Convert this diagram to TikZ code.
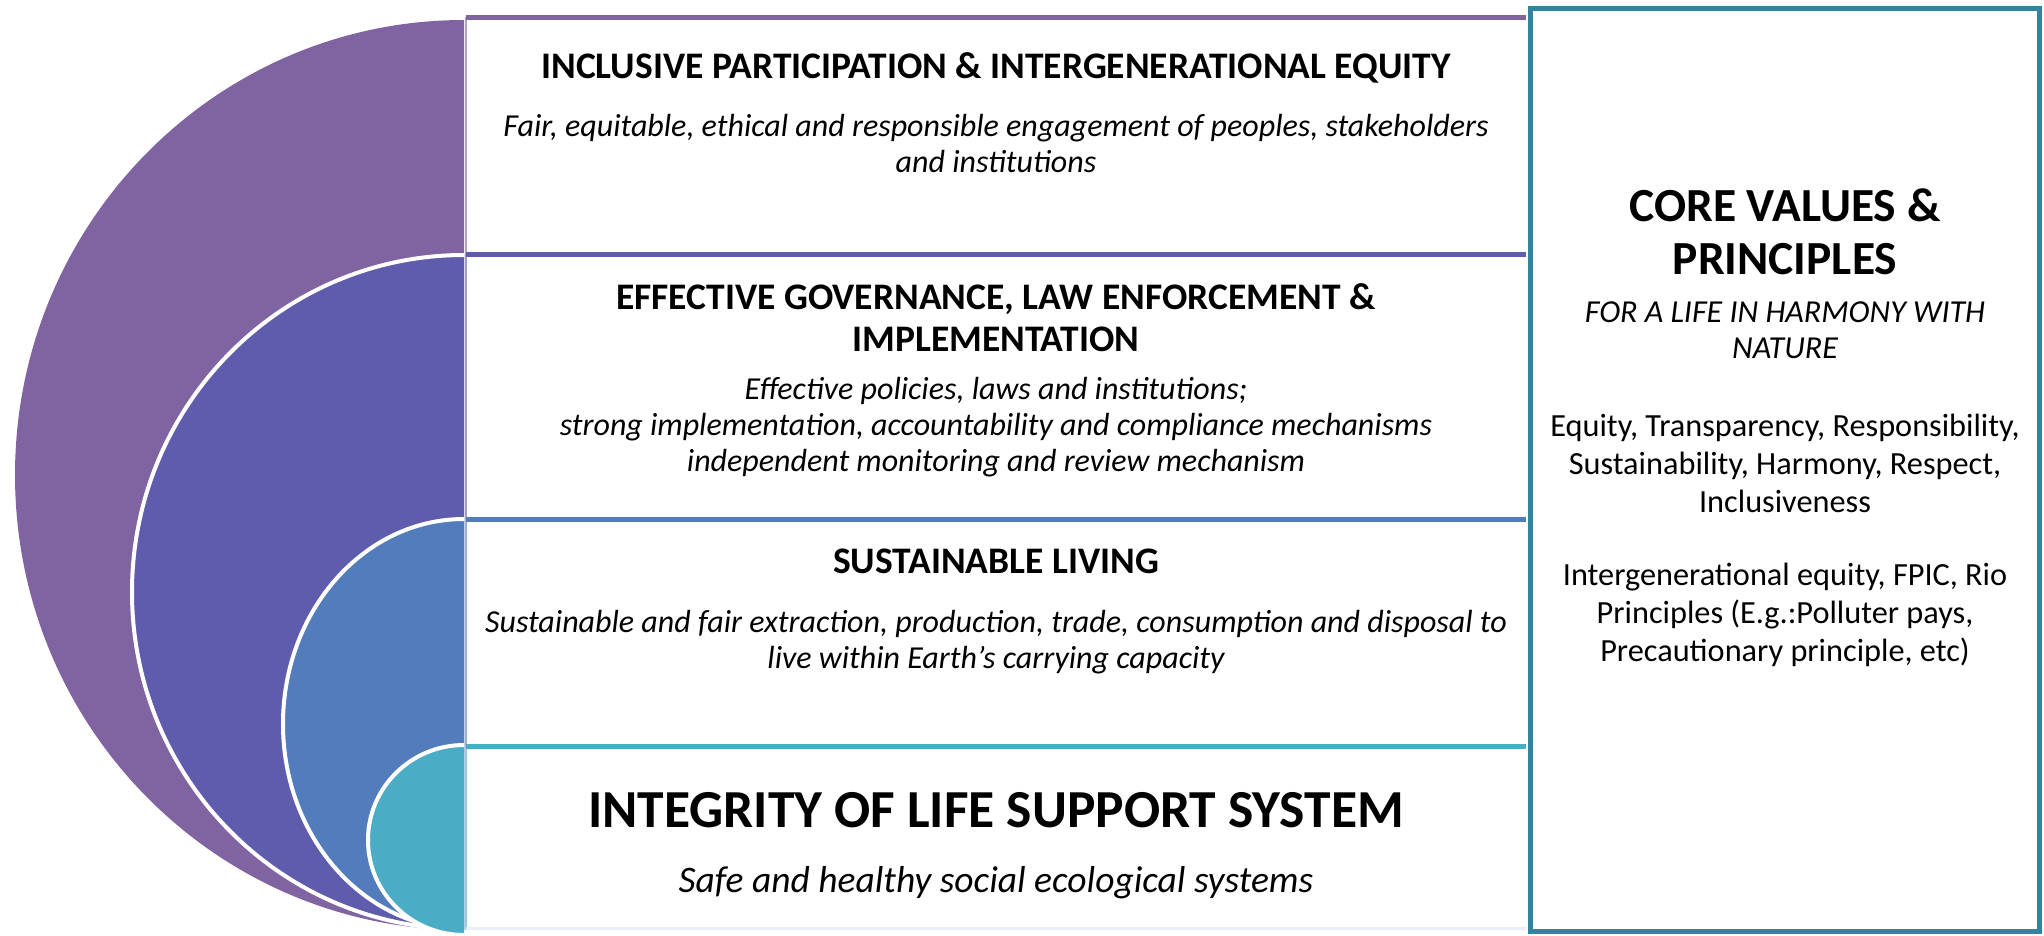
\documentclass[tikz,border=0pt]{standalone}
\usepackage{fontspec}
\setmainfont{Carlito}
\definecolor{ringA}{RGB}{128,100,162}
\definecolor{ringB}{RGB}{95,91,173}
\definecolor{ringC}{RGB}{82,124,187}
\definecolor{ringD}{RGB}{75,172,198}
\definecolor{coreline}{RGB}{49,132,155}
\begin{document}
\begin{tikzpicture}[x=1pt,y=-1pt,
    head/.style={font=\bfseries\fontsize{37.5}{42}\selectfont,align=center},
    sub/.style={font=\itshape\fontsize{32}{36}\selectfont,align=center},
    ring/.style={draw=white,line width=4}]
\useasboundingbox (0,0) rectangle (2044,935);
% half rings on the left
\begin{scope}
  \clip (0,0) rectangle (464,935);
  \fill[ringA] (464,475) ellipse[x radius=449,y radius=455];
  \filldraw[ring,fill=ringB] (464,592) ellipse[x radius=332,y radius=337];
  \filldraw[ring,fill=ringC] (464,724) ellipse[x radius=181,y radius=205];
  \filldraw[ring,fill=ringD] (464,840) ellipse[x radius=96,y radius=95];
\end{scope}
% bands
\foreach \top/\bot/\col in {17/254/ringA,254/519/ringB,519/746/ringC,746/930/ringD}{
  \draw[\col!60,line width=2] (466,\top) -- (466,\bot);
  \draw[\col,line width=5] (466,\top) -- (1526,\top);
}
\draw[ringC!12,line width=3] (466,928) -- (1526,928);
% core values box
\draw[coreline,line width=5,fill=white] (1530,8) rectangle (2039,931);
% band texts
\node[head] (incl) at (996,68) {INCLUSIVE PARTICIPATION \& INTERGENERATIONAL EQUITY};
\node[sub] (inclsub) at (996,144) {Fair, equitable, ethical and responsible engagement of peoples, stakeholders\\and institutions};
\node[head] (gov) at (996,318) {EFFECTIVE GOVERNANCE, LAW ENFORCEMENT \&\\IMPLEMENTATION};
\node[sub] (govsub) at (996,427) {Effective policies, laws and institutions;\\strong implementation, accountability and compliance mechanisms\\independent monitoring and review mechanism};
\node[head] (live) at (996,561) {SUSTAINABLE LIVING};
\node[sub] (livesub) at (996,642) {Sustainable and fair extraction, production, trade, consumption and disposal to\\live within Earth’s carrying capacity};
\node[head,font=\bfseries\fontsize{53.5}{60}\selectfont] (life) at (996,810) {INTEGRITY OF LIFE SUPPORT SYSTEM};
\node[sub,font=\itshape\fontsize{37.5}{44}\selectfont] (lifesub) at (996,883) {Safe and healthy social ecological systems};
% core texts
\node[head,font=\bfseries\fontsize{47.5}{53}\selectfont] (core) at (1785,232) {CORE VALUES \&\\PRINCIPLES};
\node[sub] (coresub) at (1785,330) {FOR A LIFE IN HARMONY WITH\\NATURE};
\node[align=center,font=\fontsize{32.3}{38}\selectfont] (vals) at (1785,463) {Equity, Transparency, Responsibility,\\Sustainability, Harmony, Respect,\\Inclusiveness};
\node[align=center,font=\fontsize{32.3}{38}\selectfont] (prin) at (1785,615) {Intergenerational equity, FPIC, Rio\\Principles (E.g.:Polluter pays,\\Precautionary principle, etc)};
\end{tikzpicture}
\end{document}
